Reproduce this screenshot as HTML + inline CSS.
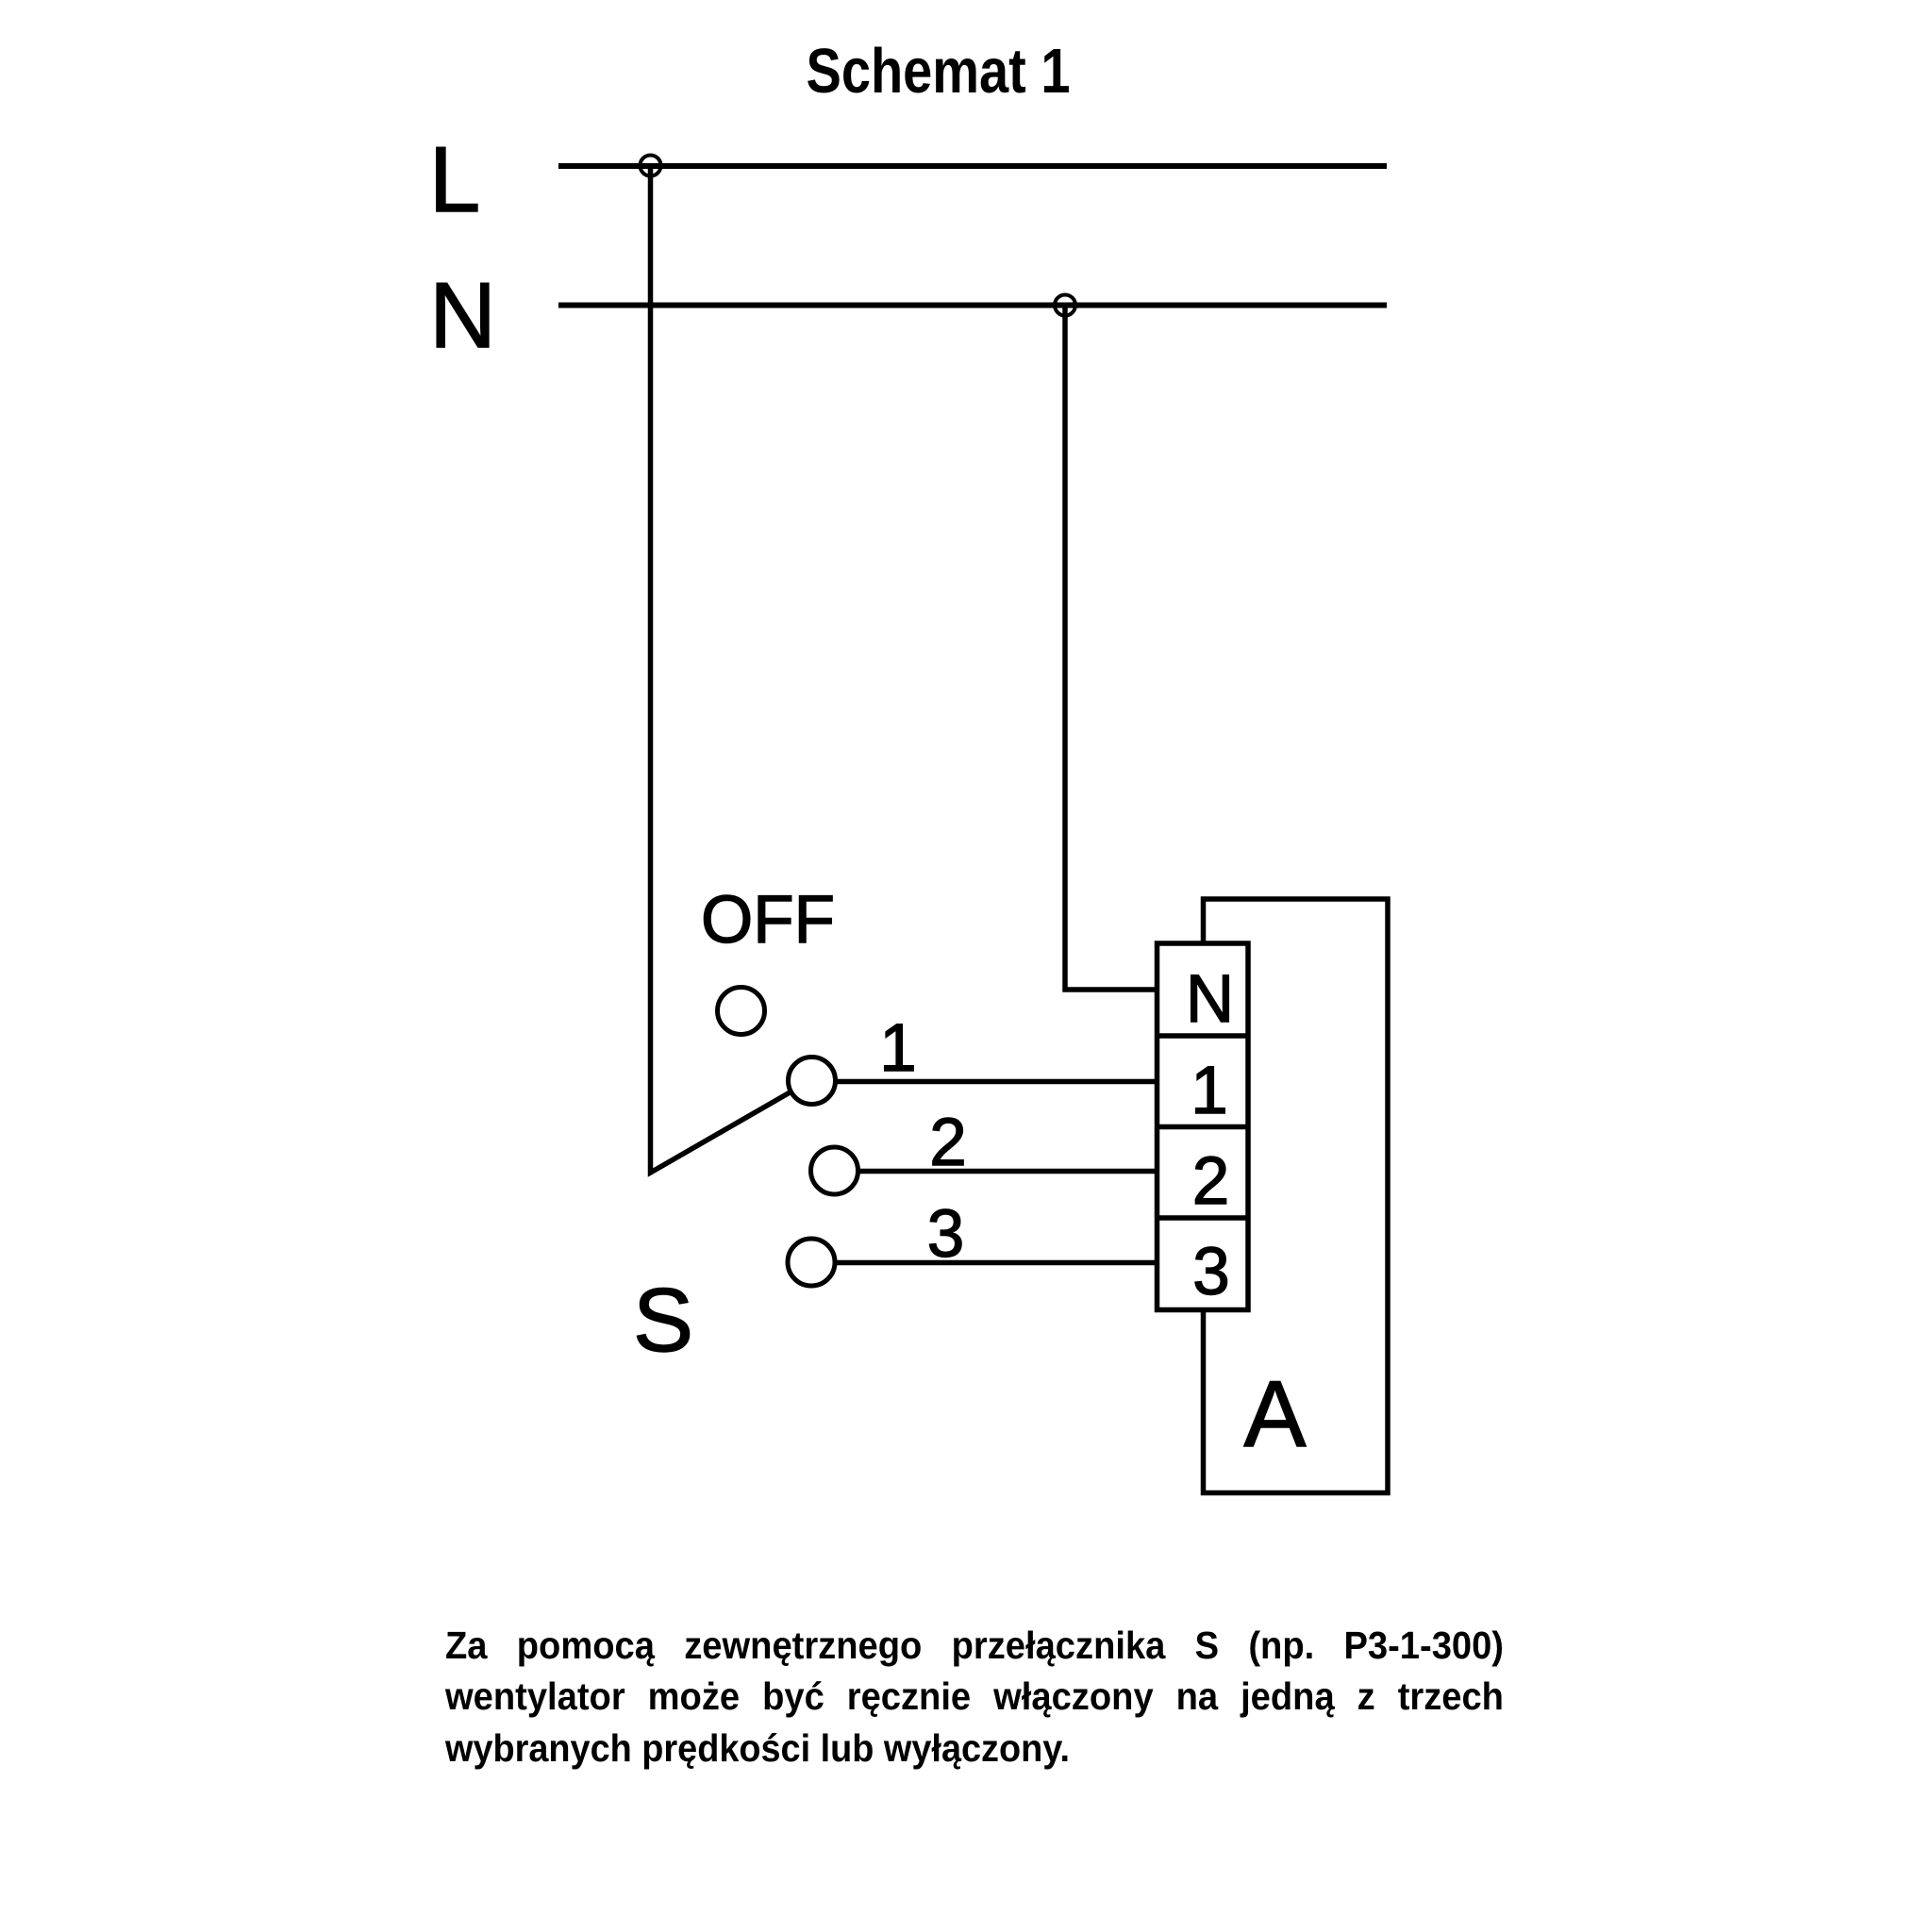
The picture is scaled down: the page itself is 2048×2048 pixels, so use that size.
<!DOCTYPE html>
<html>
<head>
<meta charset="utf-8">
<style>
  html, body { margin: 0; padding: 0; background: #fff; }
  svg { display: block; }
  .lbl { font-family: "Liberation Sans", Arial, sans-serif; fill: #000; stroke: #000; stroke-width: 1.4; }
  .par { font-family: "Liberation Sans", Arial, sans-serif; font-weight: bold; font-size: 41px; fill: #000; }
</style>
</head>
<body>
<svg width="2048" height="2048" viewBox="0 0 2048 2048" xmlns="http://www.w3.org/2000/svg">
  <rect x="0" y="0" width="2048" height="2048" fill="#fff"/>

  <!-- Title -->
  <text x="854.5" y="98" font-family="Liberation Sans, Arial, sans-serif" font-size="67" font-weight="bold" textLength="280" lengthAdjust="spacingAndGlyphs">Schemat 1</text>

  <!-- L / N labels -->
  <text class="lbl" x="482" y="224" font-size="98" text-anchor="middle">L</text>
  <text class="lbl" x="490.5" y="368" font-size="98" text-anchor="middle">N</text>

  <g fill="none" stroke="#000" stroke-width="5.5">
    <!-- Bus lines -->
    <line x1="592" y1="176" x2="1470" y2="176" stroke-width="6"/>
    <line x1="592" y1="323.5" x2="1470" y2="323.5" stroke-width="6"/>

    <!-- Junctions -->
    <circle cx="689.5" cy="175.5" r="11" stroke-width="4"/>
    <circle cx="1129" cy="323.5" r="11" stroke-width="4"/>

    <!-- L feed down to switch lever -->
    <polyline points="689.5,176 689.5,1243 839,1157" stroke-linejoin="miter" stroke-miterlimit="10"/>

    <!-- N feed to terminal N -->
    <polyline points="1129,323.5 1129,1049 1226.5,1049"/>

    <!-- Switch contacts -->
    <circle cx="785.5" cy="1071.5" r="25" stroke-width="5"/>
    <circle cx="860.5" cy="1145.5" r="25" stroke-width="5"/>
    <circle cx="884.5" cy="1241" r="25" stroke-width="5"/>
    <circle cx="860" cy="1338" r="25" stroke-width="5"/>

    <!-- Wires to terminals -->
    <line x1="885.5" y1="1146.5" x2="1226.5" y2="1146.5"/>
    <line x1="909.5" y1="1241.5" x2="1226.5" y2="1241.5"/>
    <line x1="885" y1="1338.5" x2="1226.5" y2="1338.5"/>

    <!-- Terminal block -->
    <rect x="1226.5" y="1000" width="96.5" height="388.5"/>
    <line x1="1226.5" y1="1098" x2="1323" y2="1098"/>
    <line x1="1226.5" y1="1194.5" x2="1323" y2="1194.5"/>
    <line x1="1226.5" y1="1291" x2="1323" y2="1291"/>

    <!-- Device A outline -->
    <path d="M1275.5 1000 V953 H1471 V1582.5 H1275.5 V1388.5"/>
  </g>

  <!-- Switch labels -->
  <text class="lbl" x="814" y="999" font-size="71" text-anchor="middle">OFF</text>
  <text class="lbl" x="952" y="1135" font-size="71" text-anchor="middle">1</text>
  <text class="lbl" x="1005" y="1235" font-size="71" text-anchor="middle">2</text>
  <text class="lbl" x="1002.5" y="1332" font-size="71" text-anchor="middle">3</text>
  <text class="lbl" x="703" y="1432" font-size="96" text-anchor="middle">S</text>

  <!-- Terminal labels -->
  <text class="lbl" x="1282.5" y="1083" font-size="71" text-anchor="middle">N</text>
  <text class="lbl" x="1282" y="1180" font-size="71" text-anchor="middle">1</text>
  <text class="lbl" x="1283.5" y="1276" font-size="71" text-anchor="middle">2</text>
  <text class="lbl" x="1284" y="1372" font-size="71" text-anchor="middle">3</text>

  <!-- A -->
  <text class="lbl" x="1351.5" y="1533" font-size="99" text-anchor="middle">A</text>

  <!-- Paragraph -->
  <g class="par">
    <!-- line 1 -->
    <text x="472" y="1758" textLength="44.5" lengthAdjust="spacingAndGlyphs">Za</text>
    <text x="547.77" y="1758" textLength="146.19" lengthAdjust="spacingAndGlyphs">pomocą</text>
    <text x="725.23" y="1758" textLength="252.11" lengthAdjust="spacingAndGlyphs">zewnętrznego</text>
    <text x="1008.61" y="1758" textLength="226.75" lengthAdjust="spacingAndGlyphs">przełącznika</text>
    <text x="1266.63" y="1758" textLength="25.43" lengthAdjust="spacingAndGlyphs">S</text>
    <text x="1323.33" y="1758" textLength="69.89" lengthAdjust="spacingAndGlyphs">(np.</text>
    <text x="1424.49" y="1758" textLength="169.53" lengthAdjust="spacingAndGlyphs">P3-1-300)</text>

    <!-- line 2 -->
    <text x="472" y="1812" textLength="190.69" lengthAdjust="spacingAndGlyphs">wentylator</text>
    <text x="686.66" y="1812" textLength="97.46" lengthAdjust="spacingAndGlyphs">może</text>
    <text x="808.09" y="1812" textLength="65.7" lengthAdjust="spacingAndGlyphs">być</text>
    <text x="897.76" y="1812" textLength="131.4" lengthAdjust="spacingAndGlyphs">ręcznie</text>
    <text x="1053.13" y="1812" textLength="169.53" lengthAdjust="spacingAndGlyphs">włączony</text>
    <text x="1246.63" y="1812" textLength="44.5" lengthAdjust="spacingAndGlyphs">na</text>
    <text x="1315.1" y="1812" textLength="99.59" lengthAdjust="spacingAndGlyphs">jedną</text>
    <text x="1438.66" y="1812" textLength="19.07" lengthAdjust="spacingAndGlyphs">z</text>
    <text x="1481.7" y="1812" textLength="112.29" lengthAdjust="spacingAndGlyphs">trzech</text>

    <!-- line 3 -->
    <text x="472" y="1867" textLength="662" lengthAdjust="spacingAndGlyphs">wybranych prędkości lub wyłączony.</text>
  </g>
</svg>
</body>
</html>
